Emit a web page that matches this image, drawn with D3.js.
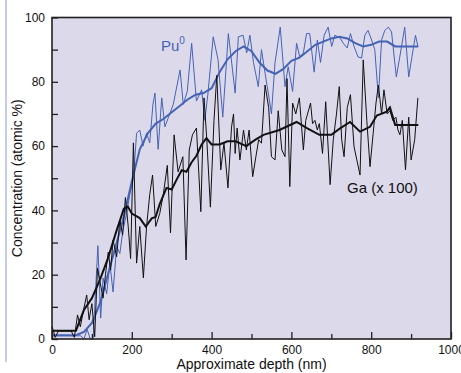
<!DOCTYPE html>
<html>
<head>
<meta charset="utf-8">
<script src="https://cdn.jsdelivr.net/npm/d3@7"></script>
<style>
  body { margin: 0; background: white; }
  svg { display: block; font-family: "Liberation Sans", Arial, Helvetica, sans-serif; }
</style>
</head>
<body>
<div id="container"></div>
<script>
// raw Pu(0) profile, depth in nm / atomic %
const puRawDepth = [0, 64, 72, 80, 88, 96, 103, 115, 122, 128, 137, 145, 153, 162, 170, 178, 187, 195, 204, 212, 220, 228, 237, 245, 253, 258, 266, 275, 283, 292, 304, 321, 329, 339, 350, 362, 375, 383, 391, 404, 416, 428, 442, 459, 467, 479, 488, 496, 505, 517, 525, 534, 542, 550, 559, 572, 584, 592, 603, 613, 621, 630, 638, 646, 657, 665, 673, 682, 692, 701, 709, 722, 730, 740, 748, 757, 767, 776, 784, 792, 801, 809, 818, 826, 834, 843, 851, 863, 872, 884, 894, 905, 911, 917]
const puRaw = [1, 1, 1, 0, 3, 0, 0, 29, 6.5, 19, 14, 23.6, 14.6, 28.7, 26.6, 34, 39, 45, 50, 64, 65, 60, 64, 61, 73, 76.5, 59, 75, 66, 69, 73, 83.7, 73, 77, 92, 74, 77.5, 68, 76.5, 94, 87, 69, 95, 76.5, 94, 94.5, 89, 94.5, 86, 78.5, 90, 82.7, 76.5, 70, 86, 97, 78.5, 84.7, 77, 92, 87.7, 89, 95, 95, 83, 93, 86, 94.5, 97, 91, 94.5, 93.6, 92, 90.5, 95, 91, 87.7, 87.4, 94.5, 96, 93, 90, 75, 93, 96, 97, 95.5, 81.5, 88, 97, 81.5, 90, 94.5, 91]

// smoothed Pu(0)
const puSmoothDepth = [0, 60, 80, 100, 120, 140, 160, 180, 200, 220, 240, 260, 280, 300, 320, 340, 360, 380, 400, 420, 440, 460, 480, 500, 520, 540, 560, 580, 600, 620, 640, 660, 680, 700, 720, 740, 760, 780, 800, 820, 840, 860, 918]
const puSmooth = [1.2, 1.2, 2.2, 5, 11, 20, 29, 38, 49, 59, 64, 67, 68.5, 70.5, 72.5, 74.5, 76, 76.5, 78, 83, 87, 89.5, 91, 89.5, 86, 83.5, 82.5, 84, 86.5, 87.5, 89.5, 91.5, 92.5, 93.5, 94, 93.5, 92, 91, 91.5, 92.5, 92.5, 91, 91]

// raw Ga (x 100)
const gaRawDepth = [0, 8, 16, 48, 56, 64, 71, 79, 87, 93, 100, 107, 114, 120, 128, 134, 141, 147, 153, 162, 170, 177, 184, 191, 197, 204, 212, 220, 229, 237, 245, 252, 260, 270, 279, 289, 297, 306, 316, 328, 336, 344, 352, 362, 373, 381, 388, 397, 406, 413, 423, 431, 441, 450, 455, 459, 464, 471, 480, 487, 494, 503, 511, 518, 525, 534, 543, 550, 559, 567, 576, 584, 589, 596, 603, 611, 620, 630, 636, 648, 653, 659, 665, 670, 678, 686, 697, 705, 713, 720, 726, 732, 740, 748, 757, 764, 772, 780, 789, 797, 805, 812, 818, 826, 832, 840, 847, 854, 862, 867, 872, 878, 886, 894, 900, 909, 917]
const gaRaw = [4, 0.5, 2.5, 2.5, 0.5, 7.5, 3.8, 9, 13.7, 6, 11, 0.7, 22, 18, 12.7, 20, 27, 21.5, 30.8, 25.6, 37, 32.3, 44, 35, 25, 61, 23.6, 35, 19, 35, 45, 51, 35, 39, 45, 54, 33, 63.5, 52, 56.7, 24.6, 58.8, 63.5, 65.6, 39.6, 75, 62, 41, 68, 82, 52.6, 61, 47, 66, 70, 57.7, 65.6, 55.7, 65, 58.8, 65, 50.5, 56.7, 62, 60.9, 79, 72, 56.7, 55.7, 71, 58.8, 56.7, 81, 47.4, 73.4, 70, 75, 58.8, 68, 73.4, 67, 68, 65, 67, 57.7, 73.8, 48, 62, 70, 78.5, 62, 56.7, 72, 76, 59.8, 55.7, 51, 86.8, 68, 53.6, 64, 73.4, 79, 70, 77.5, 70, 71, 68, 69, 65, 63.5, 68, 52.6, 69, 55.7, 62, 75]

// smoothed Ga
const gaSmoothDepth = [0, 60, 80, 100, 120, 140, 160, 180, 190, 200, 220, 235, 250, 260, 270, 287, 300, 312, 325, 337, 350, 362, 375, 387, 400, 420, 440, 460, 487, 510, 530, 570, 613, 640, 670, 700, 722, 747, 772, 797, 814, 839, 847, 860, 918]
const gaSmooth = [2.6, 2.6, 9, 12.7, 18.4, 25, 33, 40.5, 41.2, 39, 37.6, 35, 37.5, 38, 42, 47, 46.5, 49.5, 52.5, 52, 55, 57, 60.5, 62.5, 60.5, 60.5, 61.5, 61.5, 60, 62, 63.5, 65, 67.5, 65.5, 63.5, 63.5, 65.5, 67.5, 64.5, 66, 69.5, 70.7, 72, 66.6, 66.6]

const xMajor = [0, 200, 400, 600, 800, 1000]
const xMinor = [100, 300, 500, 700, 900]
const yMajor = [0, 20, 40, 60, 80, 100]
const yMinor = [10, 30, 50, 70, 90]

const w = 461
const h = 373
const plotLeft = 52
const plotRight = 451
const plotTop = 17.5
const plotBottom = 339

const blue = "#4563b5"
const black = "#111111"

const svg = d3.select("#container")
    .append("svg")
    .attr("width", w)
    .attr("height", h)

// thin rule at the page edge
svg.append("line")
    .attr("x1", 6).attr("x2", 6)
    .attr("y1", 0).attr("y2", 362)
    .attr("stroke", "#9aa8e2")
    .attr("stroke-width", 1.2)

const xScale = d3.scaleLinear().domain([0, 1000]).range([plotLeft, plotRight])
const yScale = d3.scaleLinear().domain([0, 100]).range([plotBottom, plotTop])

svg.append("rect")
    .attr("x", plotLeft)
    .attr("y", plotTop)
    .attr("width", plotRight - plotLeft)
    .attr("height", plotBottom - plotTop)
    .attr("fill", "#dcd9eb")

const line = d3.line()
    .x((d) => xScale(d[0]))
    .y((d) => yScale(d[1]))

const pair = (xs, ys) => xs.map((x, i) => [x, ys[i]])

svg.append("path")
    .attr("d", line(pair(puRawDepth, puRaw)))
    .attr("fill", "none")
    .attr("stroke", blue)
    .attr("stroke-width", 1)
svg.append("path")
    .attr("d", line(pair(puSmoothDepth, puSmooth)))
    .attr("fill", "none")
    .attr("stroke", blue)
    .attr("stroke-width", 2)
svg.append("path")
    .attr("d", line(pair(gaRawDepth, gaRaw)))
    .attr("fill", "none")
    .attr("stroke", black)
    .attr("stroke-width", 1)
svg.append("path")
    .attr("d", line(pair(gaSmoothDepth, gaSmooth)))
    .attr("fill", "none")
    .attr("stroke", black)
    .attr("stroke-width", 2)

// axes, ticks pointing inwards
const xAxis = d3.axisBottom(xScale).tickValues(xMajor).tickSize(-7).tickPadding(6).tickFormat(d3.format("d"))
const xAxisMinor = d3.axisBottom(xScale).tickValues(xMinor).tickSize(-5).tickFormat("")
const yAxis = d3.axisLeft(yScale).tickValues(yMajor).tickSize(-6).tickPadding(7).tickFormat(d3.format("d"))
const yAxisMinor = d3.axisLeft(yScale).tickValues(yMinor).tickSize(-6).tickFormat("")

const styleAxis = (g) => {
    g.select(".domain").remove()
    g.selectAll(".tick line").attr("stroke", "#231f20").attr("stroke-width", 1.3)
    g.selectAll(".tick text").attr("fill", "#111").style("font-size", "12px")
        .style("font-family", "'Liberation Sans', Arial, sans-serif")
}

svg.append("g").attr("transform", `translate(0, ${plotBottom})`).call(xAxis).call(styleAxis)
svg.append("g").attr("transform", `translate(0, ${plotBottom})`).call(xAxisMinor).call(styleAxis)
svg.append("g").attr("transform", `translate(${plotLeft}, 0)`).call(yAxis).call(styleAxis)
svg.append("g").attr("transform", `translate(${plotLeft}, 0)`).call(yAxisMinor).call(styleAxis)

svg.append("rect")
    .attr("x", plotLeft)
    .attr("y", plotTop)
    .attr("width", plotRight - plotLeft)
    .attr("height", plotBottom - plotTop)
    .attr("fill", "none")
    .attr("stroke", "#231f20")
    .attr("stroke-width", 1.6)

// labels
svg.append("text")
    .attr("x", (plotLeft + plotRight) / 2)
    .attr("y", 369)
    .attr("text-anchor", "middle")
    .style("font-size", "14px")
    .attr("fill", "#111")
    .text("Approximate depth (nm)")
svg.append("text")
    .attr("transform", `translate(22, ${(plotTop + plotBottom) / 2}) rotate(-90)`)
    .attr("text-anchor", "middle")
    .style("font-size", "14px")
    .attr("fill", "#111")
    .text("Concentration (atomic %)")

const puLabel = svg.append("text")
    .attr("x", 161)
    .attr("y", 51)
    .attr("fill", blue)
    .style("font-size", "15px")
puLabel.append("tspan").text("Pu")
puLabel.append("tspan")
    .attr("dy", -7)
    .style("font-size", "10px")
    .text("0")

svg.append("text")
    .attr("x", 347)
    .attr("y", 193)
    .attr("fill", "#111")
    .style("font-size", "15px")
    .text("Ga (x 100)")
</script>
</body>
</html>
